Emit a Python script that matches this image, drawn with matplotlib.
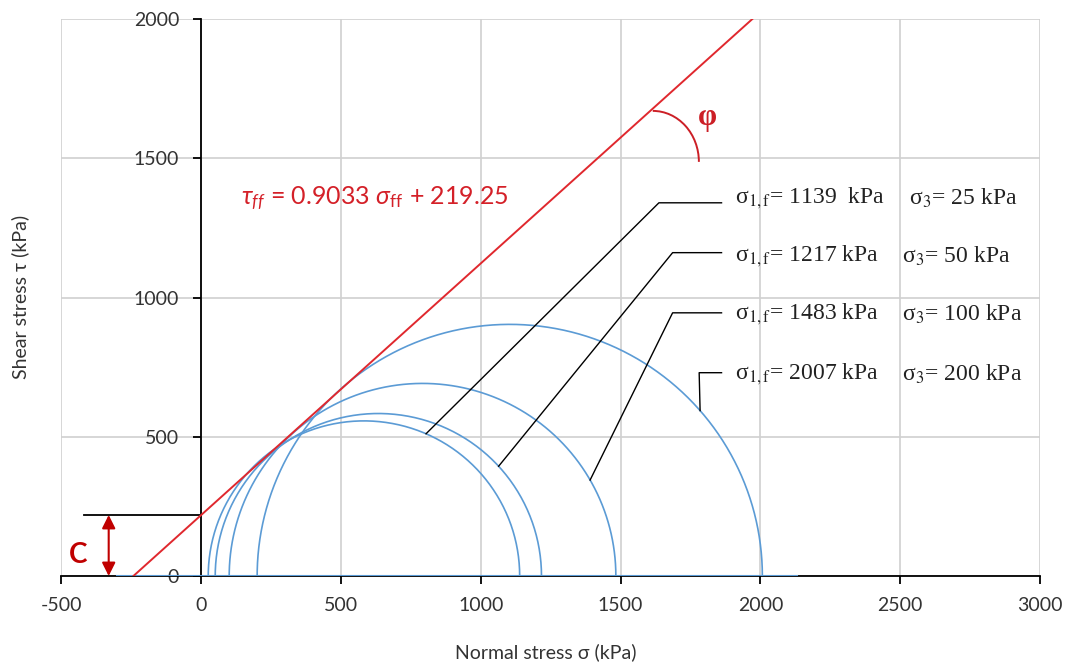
import numpy as np
import matplotlib
matplotlib.use("Agg")
import matplotlib.pyplot as plt
from matplotlib.patches import Arc

# triaxial test results (kPa)
sigma3 = [25, 50, 100, 200]
sigma1 = [1139, 1217, 1483, 2007]

# failure envelope tau = slope * sigma + c
slope = 0.9033
cohesion = 219.25
env_sigma = [-242.7, 1971.3]

baseline_sigma = [-300, 2130]

# leader lines: angle on each circle (deg), bend point, label row
leader_angle = [66.5, 42.5, 29.9, 41.1]
leader_bend = [(1637, 1340), (1686, 1161), (1686, 945), (1781, 730)]
label_y = [1355, 1147, 938, 723]
label_s1 = ["σ$_{\\mathrm{1,f}}$= 1139  kPa", "σ$_{\\mathrm{1,f}}$= 1217 kPa",
            "σ$_{\\mathrm{1,f}}$= 1483 kPa", "σ$_{\\mathrm{1,f}}$= 2007 kPa"]
label_s3 = ["σ$_{\\mathrm{3}}$= 25 kPa", "σ$_{\\mathrm{3}}$= 50 kPa",
            "σ$_{\\mathrm{3}}$= 100 kPa", "σ$_{\\mathrm{3}}$= 200 kPa"]
label_s3_x = [2530, 2505, 2505, 2505]

plt.rcParams['mathtext.fontset'] = 'custom'
plt.rcParams['mathtext.rm'] = 'Lato'
plt.rcParams['mathtext.it'] = 'Lato:italic'
plt.rcParams['axes.unicode_minus'] = False

BLUE = '#5B9BD5'
RED = '#E0282E'

fig = plt.figure(figsize=(10.65, 6.66), dpi=100)
ax = fig.add_axes([0.0577, 0.1351, 0.9188, 0.8364])
ax.set_xlim(-500, 3000)
ax.set_ylim(0, 2000)
ax.set_xticks(np.arange(-500, 3001, 500))
ax.set_yticks(np.arange(0, 2001, 500))
ax.grid(True, color='#D0D0D0', linewidth=1.2)
ax.set_axisbelow(True)

for s in ['top', 'right']:
    ax.spines[s].set_visible(False)
ax.spines['left'].set_position(('data', 0))
ax.spines['left'].set_linewidth(1.3)
ax.spines['bottom'].set_linewidth(1.3)
ax.tick_params(axis='both', direction='out', length=6, width=1.3,
               labelsize=14, colors='black')
ax.tick_params(axis='y', pad=10)
ax.tick_params(axis='x', pad=9)
for lab in ax.get_xticklabels() + ax.get_yticklabels():
    lab.set_fontfamily('Lato')
    lab.set_color('#333333')

# Mohr circles
theta = np.linspace(0, np.pi, 300)
for s3, s1 in zip(sigma3, sigma1):
    c = (s1 + s3) / 2
    r = (s1 - s3) / 2
    ax.plot(c + r * np.cos(theta), r * np.sin(theta), color=BLUE, lw=1.2, zorder=3)
ax.plot(baseline_sigma, [0, 0], color=BLUE, lw=1.5, zorder=3)

# failure envelope
env_x = np.array(env_sigma)
ax.plot(env_x, slope * env_x + cohesion, color=RED, lw=1.4, zorder=4)
ax.text(144, 1356, r'$\mathit{\tau_{ff}}$ = 0.9033 $\mathit{\sigma}_{\mathrm{ff}}$ + 219.25',
        color='#D42028', fontsize=18, fontfamily='Lato', math_fontfamily='custom',
        ha='left', va='center')

# friction angle arc
ax.add_patch(Arc((1615, 1487), 2 * 165, 2 * 183, theta1=0, theta2=90,
                 color='#CC1F26', lw=1.4, zorder=4))
ax.text(1812, 1648, 'φ', color='#CC1F26', fontsize=22, fontweight='bold',
        fontfamily='Liberation Serif', ha='center', va='center')

# cohesion marker
ax.plot([-421, 0], [cohesion, cohesion], color='black', lw=1.3, zorder=3)
ax.annotate('', xy=(-331, 0), xytext=(-331, cohesion),
            arrowprops=dict(arrowstyle='<|-|>', color='#C00000', lw=1.5,
                            mutation_scale=20, shrinkA=0, shrinkB=0), zorder=4)
ax.text(-439, 75, 'C', color='#C00000', fontsize=20, fontweight='bold',
        fontfamily='Lato', ha='center', va='center')

# leader lines and labels
for i in range(4):
    c = (sigma1[i] + sigma3[i]) / 2
    r = (sigma1[i] - sigma3[i]) / 2
    a = np.radians(leader_angle[i])
    bx, by = leader_bend[i]
    ax.plot([c + r * np.cos(a), bx, 1861], [r * np.sin(a), by, by],
            color='black', lw=1.0, zorder=5)
    ax.text(1908, label_y[i], label_s1[i], fontsize=17, fontfamily='Liberation Serif',
            math_fontfamily='stix', ha='left', va='center', color='#222222')
    ax.text(label_s3_x[i], label_y[i], label_s3[i], fontsize=17,
            fontfamily='Liberation Serif', math_fontfamily='stix',
            ha='left', va='center', color='#222222')

fig.text(546 / 1065, 1 - 652 / 666, 'Normal stress σ (kPa)', fontsize=14,
         fontfamily='Lato', ha='center', va='center', color='#333333')
fig.text(20 / 1065, 1 - 297 / 666, 'Shear stress τ (kPa)', fontsize=14,
         fontfamily='Lato', ha='center', va='center', rotation=90, color='#333333')

fig.savefig('out.png', dpi=100)
